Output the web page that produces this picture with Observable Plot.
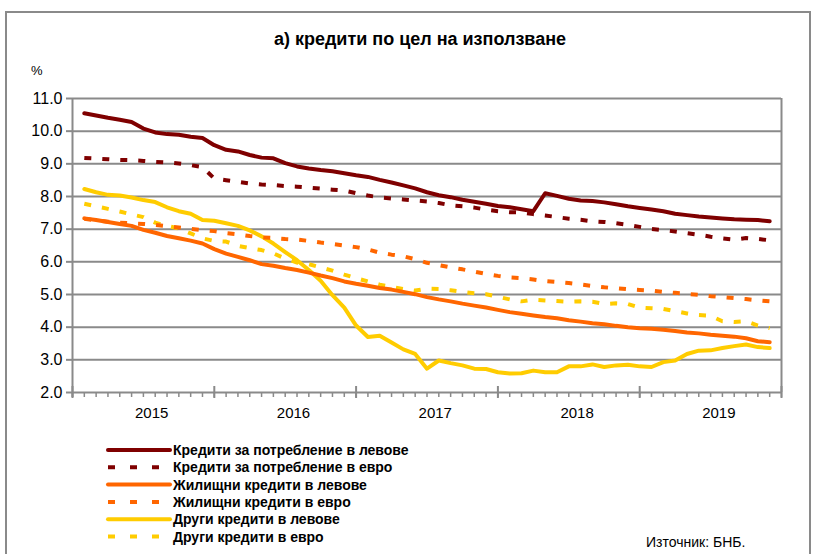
<!DOCTYPE html>
<html>
<head>
<meta charset="utf-8">
<script src="https://cdn.jsdelivr.net/npm/d3@7"></script>
<script src="https://cdn.jsdelivr.net/npm/@observablehq/plot@0.6"></script>
<style>
  html, body { margin: 0; padding: 0; background: #fff; }
  #wrap { position: relative; width: 816px; height: 554px; overflow: hidden; font-family: "Liberation Sans", Arial, sans-serif; }
  #frame { position: absolute; left: 5px; top: 11px; width: 802px; height: 600px; border-top: 2px solid #8a8a8a; border-left: 2px solid #8a8a8a; border-right: 2px solid #8a8a8a; }
  #title { position: absolute; left: 0; width: 840px; top: 29px; text-align: center; font-weight: bold; font-size: 18px; color: #000; }
  #pct { position: absolute; left: 31px; top: 63px; font-size: 13px; color: #000; }
  #chart { position: absolute; left: 0; top: 0; }
  #legend { position: absolute; left: 0; top: 0; }
  #source { position: absolute; left: 646px; top: 534px; font-size: 14px; color: #000; }
</style>
</head>
<body>
<div id="wrap">
  <div id="frame"></div>
  <div id="chart"></div>
  <div id="title">а) кредити по цел на използване</div>
  <div id="pct">%</div>
  <div id="legend"></div>
  <div id="source">Източник: БНБ.</div>
</div>
<script>
// Categories: monthly observations Jan 2015 – Nov 2019
const months = d3.range(59).map(i => `${2015 + Math.floor(i / 12)}-${String(i % 12 + 1).padStart(2, "0")}`);
const years = ["2015", "2016", "2017", "2018", "2019"];
const yTicks = [2, 3, 4, 5, 6, 7, 8, 9, 10, 11];

// Series values (%)
const consumerBGN = [10.55,10.48,10.41,10.35,10.28,10.08,9.96,9.91,9.89,9.83,9.79,9.57,
  9.43,9.38,9.27,9.19,9.17,9.02,8.92,8.86,8.81,8.77,8.71,8.65,
  8.60,8.51,8.43,8.34,8.25,8.13,8.04,7.98,7.90,7.84,7.78,7.71,
  7.67,7.61,7.55,8.10,8.02,7.93,7.88,7.86,7.82,7.76,7.70,7.65,
  7.60,7.55,7.47,7.43,7.39,7.36,7.33,7.30,7.29,7.28,7.24];
const consumerEUR = [9.18,9.16,9.14,9.12,9.11,9.09,9.06,9.04,9.01,8.96,8.90,8.55,
  8.50,8.45,8.40,8.37,8.35,8.32,8.30,8.27,8.24,8.21,8.18,8.10,
  8.03,7.97,7.94,7.91,7.88,7.85,7.80,7.73,7.70,7.66,7.60,7.55,
  7.52,7.51,7.46,7.42,7.37,7.32,7.29,7.24,7.22,7.18,7.13,7.07,
  7.01,6.97,6.93,6.88,6.83,6.77,6.72,6.68,6.73,6.70,6.66];
const housingBGN = [7.33,7.28,7.22,7.16,7.10,6.98,6.89,6.79,6.72,6.65,6.56,6.39,
  6.25,6.15,6.05,5.93,5.88,5.81,5.75,5.67,5.58,5.50,5.40,5.33,
  5.27,5.20,5.15,5.08,5.01,4.92,4.85,4.79,4.72,4.66,4.60,4.53,
  4.46,4.41,4.36,4.31,4.27,4.21,4.17,4.12,4.09,4.04,4.00,3.97,
  3.95,3.92,3.88,3.84,3.81,3.77,3.74,3.71,3.66,3.57,3.54];
const housingEUR = [7.32,7.27,7.23,7.20,7.18,7.16,7.13,7.09,7.05,7.01,6.97,6.94,
  6.88,6.84,6.79,6.75,6.73,6.70,6.68,6.64,6.59,6.55,6.50,6.45,
  6.38,6.28,6.22,6.17,6.08,5.97,5.90,5.83,5.77,5.70,5.63,5.57,
  5.52,5.50,5.46,5.41,5.38,5.35,5.31,5.26,5.22,5.19,5.16,5.14,
  5.12,5.08,5.05,5.02,4.99,4.95,4.92,4.89,4.86,4.82,4.79];
const otherBGN = [8.23,8.13,8.05,8.03,7.97,7.89,7.83,7.67,7.55,7.47,7.28,7.26,
  7.18,7.10,6.96,6.78,6.56,6.30,6.05,5.75,5.42,4.98,4.60,4.05,
  3.70,3.74,3.53,3.32,3.18,2.73,2.98,2.90,2.83,2.73,2.72,2.62,
  2.58,2.59,2.67,2.62,2.62,2.80,2.80,2.86,2.78,2.83,2.85,2.80,
  2.78,2.93,2.98,3.18,3.28,3.29,3.36,3.42,3.47,3.39,3.36];
const otherEUR = [7.78,7.70,7.62,7.54,7.45,7.37,7.20,7.10,7.02,6.87,6.72,6.64,
  6.62,6.49,6.42,6.36,6.26,6.10,5.98,5.93,5.83,5.73,5.61,5.50,
  5.40,5.30,5.23,5.17,5.12,5.18,5.17,5.13,5.08,5.04,5.01,4.93,
  4.85,4.79,4.84,4.82,4.80,4.78,4.79,4.78,4.71,4.73,4.71,4.60,
  4.58,4.56,4.49,4.42,4.37,4.35,4.18,4.16,4.18,4.05,3.97];

const seriesNames = [
  "Кредити за потребление в левове",
  "Кредити за потребление в евро",
  "Жилищни кредити в левове",
  "Жилищни кредити в евро",
  "Други кредити в левове",
  "Други кредити в евро"
];
const seriesValues = [consumerBGN, consumerEUR, housingBGN, housingEUR, otherBGN, otherEUR];
const seriesColors = ["#7f0000", "#7f0000", "#ff6600", "#ff6600", "#ffcc00", "#ffcc00"];
const seriesDashed = [false, true, false, true, false, true];

// month position on the category axis (0..60), point at month end
const monthPos = m => (+m.slice(0, 4) - 2015) * 12 + (+m.slice(5));

const gridColor = "#8a8a8a";
const lineMarks = [];
[4, 5, 2, 3, 1, 0].forEach(k => {
  const data = months.map((m, i) => ({x: monthPos(m), y: seriesValues[k][i]}));
  lineMarks.push(Plot.line(data, {
    x: "x", y: "y",
    stroke: seriesColors[k],
    strokeWidth: 4,
    strokeDasharray: seriesDashed[k] ? "7,11" : null,
    strokeLinecap: seriesDashed[k] ? "butt" : "round",
    strokeLinejoin: "round"
  }));
});

const chart = Plot.plot({
  width: 816,
  height: 430,
  marginLeft: 72,
  marginRight: 35,
  marginTop: 98,
  marginBottom: 38,
  x: {type: "linear", domain: [0, 60], axis: null},
  y: {domain: [2, 11], axis: null},
  style: {fontFamily: "'Liberation Sans', Arial, sans-serif", background: "transparent", color: "#000", overflow: "visible"},
  marks: [
    Plot.ruleY(yTicks.slice(1), {stroke: gridColor, strokeWidth: 2}),
    Plot.ruleX([60], {stroke: gridColor, strokeWidth: 2}),
    Plot.ruleX([0], {stroke: gridColor, strokeWidth: 2, insetBottom: -5}),
    Plot.ruleY([2], {stroke: gridColor, strokeWidth: 2}),
    Plot.ruleX(d3.range(0, 61), {x: d => d, y1: 2, y2: 2, insetBottom: -5, stroke: gridColor, strokeWidth: 1.5}),
    Plot.ruleX(d3.range(0, 61, 12), {x: d => d, y1: 2, y2: 2, insetTop: -6, insetBottom: -6, stroke: gridColor, strokeWidth: 2}),
    Plot.axisY({ticks: yTicks, label: null, tickSize: 6, tickPadding: 4, tickFormat: d => d.toFixed(1), fontSize: 16, stroke: gridColor, strokeWidth: 2, fill: "#000"}),
    Plot.axisX({ticks: years.map((y, i) => 12 * i + 6.7), label: null, tickSize: 0, tickPadding: 15, tickFormat: d => years[Math.floor(d / 12)], fontSize: 15, fill: "#000"}),
    ...lineMarks
  ]
});
document.getElementById("chart").appendChild(chart);

// Legend
const ns = "http://www.w3.org/2000/svg";
const leg = document.createElementNS(ns, "svg");
leg.setAttribute("width", 816);
leg.setAttribute("height", 554);
seriesNames.forEach((name, k) => {
  const y = 450 + k * 17.3;
  const ln = document.createElementNS(ns, "line");
  ln.setAttribute("x1", 108); ln.setAttribute("x2", 170);
  ln.setAttribute("y1", y); ln.setAttribute("y2", y);
  ln.setAttribute("stroke", seriesColors[k]);
  ln.setAttribute("stroke-width", 4);
  if (seriesDashed[k]) { ln.setAttribute("stroke-dasharray", "7,15"); }
  else { ln.setAttribute("stroke-linecap", "round"); }
  leg.appendChild(ln);
  const t = document.createElementNS(ns, "text");
  t.setAttribute("x", 173); t.setAttribute("y", y + 5);
  t.setAttribute("font-size", 14); t.setAttribute("font-weight", "bold");
  t.setAttribute("font-family", "'Liberation Sans', Arial, sans-serif");
  t.textContent = name;
  leg.appendChild(t);
});
document.getElementById("legend").appendChild(leg);
</script>
</body>
</html>
